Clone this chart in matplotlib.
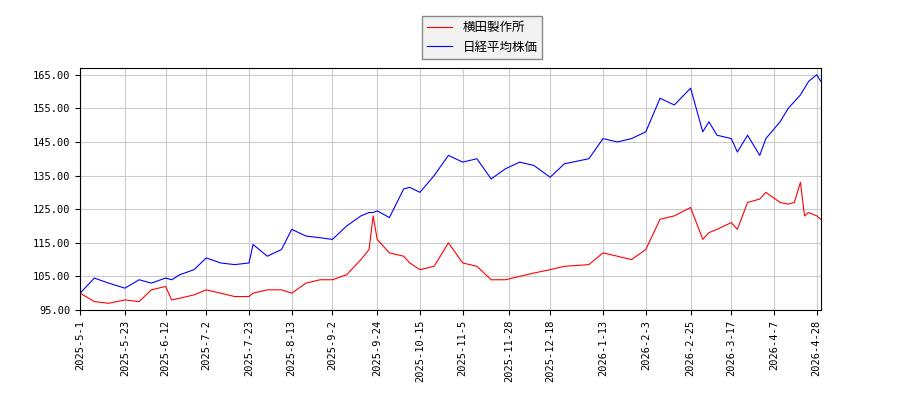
import matplotlib
matplotlib.use("Agg")
import matplotlib.pyplot as plt
import pandas as pd

plt.rcParams['font.family'] = ['Noto Sans CJK JP', 'DejaVu Sans']

dates = ["2025-05-01", "2025-05-08", "2025-05-15", "2025-05-23", "2025-05-30", "2025-06-05",
         "2025-06-12", "2025-06-15", "2025-06-19", "2025-06-26", "2025-07-02", "2025-07-09",
         "2025-07-16", "2025-07-23", "2025-07-25", "2025-08-01", "2025-08-08", "2025-08-13",
         "2025-08-20", "2025-08-27", "2025-09-02", "2025-09-09", "2025-09-16", "2025-09-20",
         "2025-09-22", "2025-09-24", "2025-09-30", "2025-10-07", "2025-10-10", "2025-10-15",
         "2025-10-22", "2025-10-29", "2025-11-05", "2025-11-12", "2025-11-19", "2025-11-26",
         "2025-12-03", "2025-12-10", "2025-12-18", "2025-12-25", "2026-01-06", "2026-01-13",
         "2026-01-20", "2026-01-27", "2026-02-03", "2026-02-10", "2026-02-17", "2026-02-25",
         "2026-03-03", "2026-03-06", "2026-03-10", "2026-03-17", "2026-03-20", "2026-03-25",
         "2026-03-31", "2026-04-03", "2026-04-10", "2026-04-14", "2026-04-17", "2026-04-20",
         "2026-04-22", "2026-04-24", "2026-04-28", "2026-04-30"]

nikkei = [100, 104.5, 103, 101.5, 104, 103, 104.5, 104, 105.5, 107, 110.5, 109,
          108.5, 109, 114.5, 111, 113, 119, 117, 116.5, 116, 120, 123, 124,
          124, 124.5, 122.5, 131, 131.5, 130, 135, 141, 139, 140, 134, 137,
          139, 138, 134.5, 138.5, 140, 146, 145, 146, 148, 158, 156, 161,
          148, 151, 147, 146, 142, 147, 141, 146, 151, 155, 157, 159,
          161, 163, 165, 163]

yokota = [100, 97.5, 97, 98, 97.5, 101, 102, 98, 98.5, 99.5, 101, 100,
          99, 99, 100, 101, 101, 100, 103, 104, 104, 105.5, 110, 113,
          123, 116, 112, 111, 109, 107, 108, 115, 109, 108, 104, 104,
          105, 106, 107, 108, 108.5, 112, 111, 110, 113, 122, 123, 125.5,
          116, 118, 119, 121, 119, 127, 128, 130, 127, 126.5, 127, 133,
          123, 124, 123, 122]

tick_dates = ["2025-05-01", "2025-05-23", "2025-06-12", "2025-07-02", "2025-07-23", "2025-08-13",
              "2025-09-02", "2025-09-24", "2025-10-15", "2025-11-05", "2025-11-28", "2025-12-18",
              "2026-01-13", "2026-02-03", "2026-02-25", "2026-03-17", "2026-04-07", "2026-04-28"]
tick_labels = ["2025-5-1", "2025-5-23", "2025-6-12", "2025-7-2", "2025-7-23", "2025-8-13",
               "2025-9-2", "2025-9-24", "2025-10-15", "2025-11-5", "2025-11-28", "2025-12-18",
               "2026-1-13", "2026-2-3", "2026-2-25", "2026-3-17", "2026-4-7", "2026-4-28"]

x = pd.to_datetime(dates)
fig = plt.figure(figsize=(9, 4), dpi=100)
ax = fig.add_axes([0.089, 0.225, 0.823, 0.605])
ax.plot(x, yokota, color="red", lw=0.8, label="横田製作所")
ax.plot(x, nikkei, color="blue", lw=0.8, label="日経平均株価")
ax.set_xlim(pd.Timestamp("2025-05-01"), pd.Timestamp("2026-04-30"))
ax.set_ylim(95, 167)
ax.set_yticks(range(95, 166, 10))
ax.yaxis.set_major_formatter(matplotlib.ticker.FormatStrFormatter("%.2f"))
ax.set_xticks(pd.to_datetime(tick_dates))
ax.set_xticklabels(tick_labels, rotation=90, family="DejaVu Sans Mono")
for lbl in ax.get_yticklabels():
    lbl.set_family("DejaVu Sans Mono")
ax.tick_params(labelsize=7.5)
ax.grid(True, color="#cccccc", lw=0.8)
fig.legend(loc="upper center", bbox_to_anchor=(0.536, 0.975), fontsize=9,
           fancybox=False, edgecolor="#888888", facecolor="#f2f2f2", framealpha=1)
fig.savefig("out.png")
